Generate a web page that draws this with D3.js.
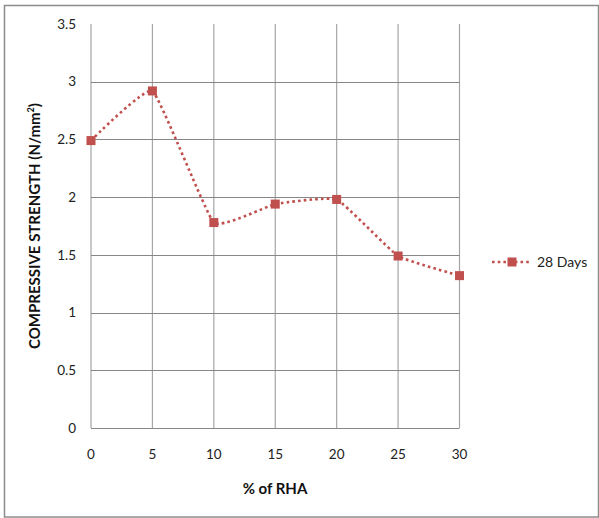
<!DOCTYPE html>
<html>
<head>
<meta charset="utf-8">
<script src="https://cdn.jsdelivr.net/npm/d3@7"></script>
<style>
  body { margin: 0; background: #fff; }
  svg { display: block; font-family: Lato, "Open Sans", sans-serif; }
</style>
</head>
<body>
<div id="chart"></div>
<script>
// Compressive strength vs % of RHA, 28 days
var rhaPercent = [0, 5, 10, 15, 20, 25, 30];
var strength28 = [2.49, 2.92, 1.78, 1.94, 1.98, 1.49, 1.32];
var xTicks = [0, 5, 10, 15, 20, 25, 30];
var yTicks = [0, 0.5, 1, 1.5, 2, 2.5, 3, 3.5];
var seriesName = "28 Days";

var width = 599, height = 518;
var red = "#C0504D";

var svg = d3.select("#chart").append("svg")
    .attr("width", width)
    .attr("height", height);

// outer chart border
svg.append("rect")
    .attr("x", 4.5).attr("y", 5.5)
    .attr("width", 594).attr("height", 511.5)
    .attr("fill", "none")
    .attr("stroke", "#8c8c8c")
    .attr("stroke-width", 1.5);

var x = d3.scaleLinear().domain([0, 30]).range([91, 459.5]);
var y = d3.scaleLinear().domain([0, 3.5]).range([428, 24]);

// vertical gridlines
svg.append("g").selectAll("line")
    .data(xTicks)
    .enter().append("line")
    .attr("x1", function (d) { return x(d); })
    .attr("x2", function (d) { return x(d); })
    .attr("y1", y(3.5))
    .attr("y2", y(0))
    .attr("stroke", function (d) { return d == 0 ? "#c8c8c8" : "#a6a6a6"; })
    .attr("stroke-width", function (d) { return d == 0 ? 2 : 1.2; });

// horizontal gridlines (none at the top)
svg.append("g").selectAll("line")
    .data(yTicks.filter(function (d) { return d < 3.5; }))
    .enter().append("line")
    .attr("x1", x(0))
    .attr("x2", x(30))
    .attr("y1", function (d) { return Math.round(y(d)) + 0.5; })
    .attr("y2", function (d) { return Math.round(y(d)) + 0.5; })
    .attr("stroke", "#878787")
    .attr("stroke-width", 1);

// y tick labels
svg.append("g").selectAll("text")
    .data(yTicks)
    .enter().append("text")
    .attr("x", 76)
    .attr("y", function (d) { return y(d); })
    .attr("dy", "0.35em")
    .attr("text-anchor", "end")
    .attr("font-size", 13.5)
    .attr("fill", "#222")
    .text(function (d) { return d; });

// x tick labels
svg.append("g").selectAll("text")
    .data(xTicks)
    .enter().append("text")
    .attr("x", function (d) { return x(d); })
    .attr("y", 458.5)
    .attr("text-anchor", "middle")
    .attr("font-size", 13.5)
    .attr("fill", "#222")
    .text(function (d) { return d; });

// axis titles
svg.append("text")
    .attr("x", 275)
    .attr("y", 493.5)
    .attr("text-anchor", "middle")
    .attr("font-size", 15)
    .attr("font-weight", "bold")
    .attr("fill", "#111")
    .text("% of RHA");

var ytitle = svg.append("text")
    .attr("font-size", 15)
    .attr("font-weight", "bold")
    .attr("fill", "#111");
ytitle.append("tspan").text("COMPRESSIVE STRENGTH (N/mm");
ytitle.append("tspan").attr("dy", -6).attr("font-size", 9).text("2");
ytitle.append("tspan").attr("dy", 6).text(")");
// center the rotated title on y = 226
var titleLen = ytitle.node().getBBox().width;
ytitle.attr("transform", "translate(40," + (226 + titleLen / 2) + ") rotate(-90)");

// series line
var points = rhaPercent.map(function (d, i) { return [d, strength28[i]]; });
var line = d3.line()
    .x(function (d) { return x(d[0]); })
    .y(function (d) { return y(d[1]); })
    .curve(d3.curveCardinal.tension(0.65));

svg.append("path")
    .datum(points)
    .attr("d", line)
    .attr("fill", "none")
    .attr("stroke", red)
    .attr("stroke-width", 2.6)
    .attr("stroke-dasharray", "2.6 3.1");

svg.append("g").selectAll("rect")
    .data(points)
    .enter().append("rect")
    .attr("x", function (d) { return x(d[0]) - 4.5; })
    .attr("y", function (d) { return y(d[1]) - 4.5; })
    .attr("width", 9)
    .attr("height", 9)
    .attr("fill", red);

// legend
var legend = svg.append("g").attr("transform", "translate(492,262)");
legend.append("line")
    .attr("x1", 0).attr("x2", 39)
    .attr("y1", 0).attr("y2", 0)
    .attr("stroke", red)
    .attr("stroke-width", 2.6)
    .attr("stroke-dasharray", "2.6 3.1");
legend.append("rect")
    .attr("x", 15.5).attr("y", -4.5)
    .attr("width", 9).attr("height", 9)
    .attr("fill", red);
legend.append("text")
    .attr("x", 45)
    .attr("y", 0)
    .attr("dy", "0.35em")
    .attr("font-size", 14)
    .attr("fill", "#222")
    .text(seriesName);
</script>
</body>
</html>
